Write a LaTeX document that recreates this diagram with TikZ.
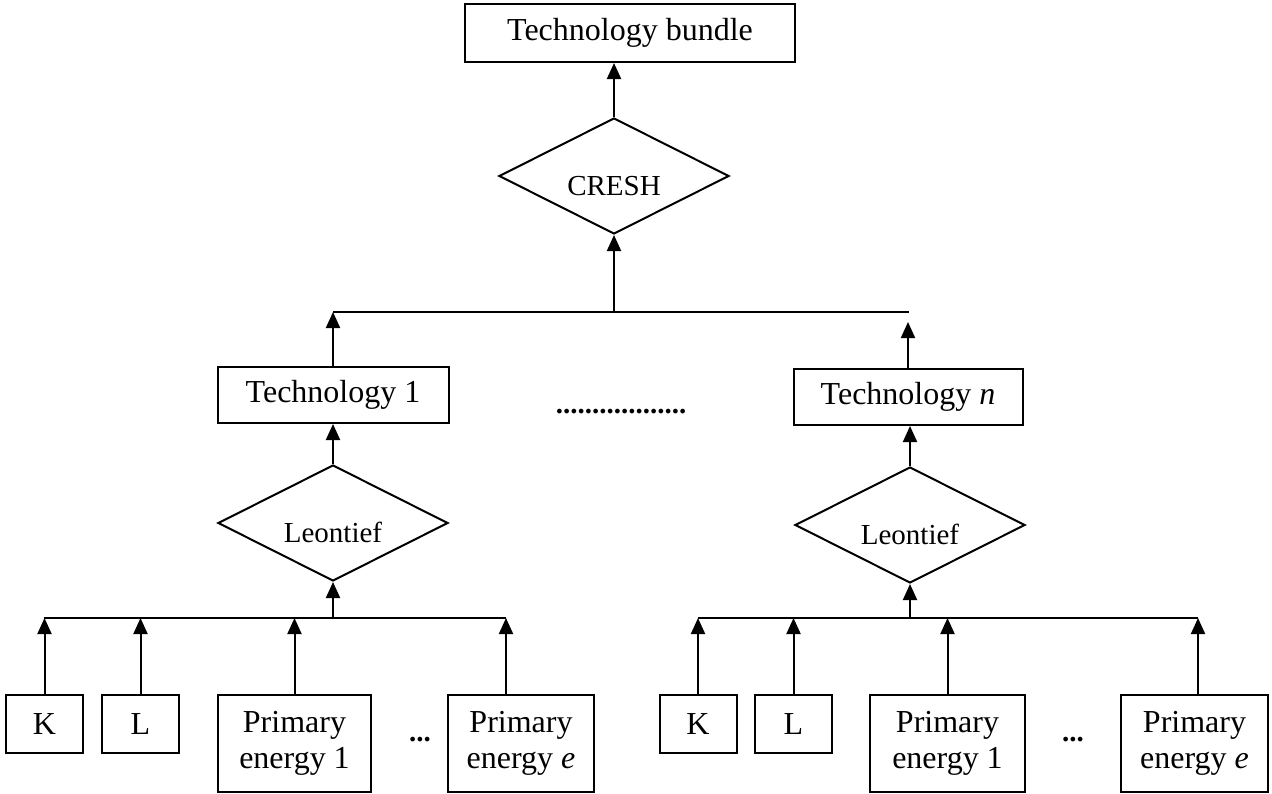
\documentclass[tikz,border=0pt]{standalone}
\usepackage{fontspec}
\setmainfont{Liberation Serif}
\usetikzlibrary{positioning,shapes.geometric,arrows.meta}

\begin{document}
\begin{tikzpicture}[x=0.5pt, y=-0.5pt, line width=1pt, >={Triangle[length=8pt,width=7pt]},
    box/.style = {draw, inner sep=0pt, align=center, font=\fontsize{16}{18}\selectfont},
    small/.style = {box, minimum width=38.5pt, minimum height=29pt},
    wide/.style = {box, minimum height=48.5pt},
    rhomb/.style = {draw, diamond, aspect=2, inner sep=0pt, minimum width=115pt, minimum height=58pt,
        text height=19pt, text depth=0pt, font=\fontsize{14.5}{17}\selectfont},
    dots/.style = {inner sep=0pt, font=\fontsize{14.5}{17}\selectfont\bfseries}]
\useasboundingbox (0,0) rectangle (1272,793);

% top
\node[box, minimum width=165pt, minimum height=29pt] (bundle) at (630,33) {Technology bundle};
\node[rhomb] (cresh) at (614,176) {CRESH};
\draw[->] (cresh.north) -- (cresh.north |- bundle.south);
\coordinate (bar) at (614,312);
\coordinate (barL) at (333,312);
\coordinate (barR) at (909,312);
\draw (barL) -- (barR);
\draw[->] (bar) -- (cresh.south);

% technologies
\node[box, minimum width=115.5pt, minimum height=28pt] (tech1) at (333,395) {Technology 1};
\node[box, minimum width=114.5pt, minimum height=28pt] (techn) at (908,397) {Technology \textit{n}};
\node[dots] (mid) at (621,412) {..................};
\coordinate (tipn) at ([yshift=23pt]techn.north);
\draw[->] (tech1.north) -- (barL);
\draw[->] (techn.north) -- (tipn);

% left Leontief nest
\node[rhomb] (leo1) at (333,523) {Leontief};
\draw[->] (leo1.north) -- (tech1.south);
\coordinate (bot1) at (333,618);
\coordinate (bot1L) at (44,618);
\coordinate (bot1R) at (506,618);
\draw (bot1L) -- (bot1R);
\draw[->] (bot1) -- (leo1.south);
\node[small] (k1) at (44.5,724) {K};
\node[small] (l1) at (140.5,724) {L};
\node[wide, minimum width=76.5pt] (pe1) at (294.5,743.5) {Primary\\energy 1};
\node[wide, minimum width=73pt] (pee1) at (521,743.5) {Primary\\energy \textit{e}};
\node[dots] (etc1) at (420,740) {...};
\draw[->] (k1.north) -- (k1.north |- bot1);
\draw[->] (l1.north) -- (l1.north |- bot1);
\draw[->] (pe1.north) -- (pe1.north |- bot1);
\draw[->] (bot1R |- pee1.north) -- (bot1R);

% right Leontief nest
\node[rhomb] (leon) at (910,525) {Leontief};
\draw[->] (leon.north) -- (leon.north |- techn.south);
\coordinate (botn) at (910,618);
\coordinate (botnL) at (698,618);
\coordinate (botnR) at (1198,618);
\draw (botnL) -- (botnR);
\draw[->] (botn) -- (leon.south);
\node[small] (k2) at (698,724) {K};
\node[small] (l2) at (793.5,724) {L};
\node[wide, minimum width=77.5pt] (pe2) at (947.5,743.5) {Primary\\energy 1};
\node[wide, minimum width=73.5pt] (pee2) at (1194.5,743.5) {Primary\\energy \textit{e}};
\node[dots] (etc2) at (1073,740) {...};
\draw[->] (k2.north) -- (k2.north |- botn);
\draw[->] (l2.north) -- (l2.north |- botn);
\draw[->] (pe2.north) -- (pe2.north |- botn);
\draw[->] (botnR |- pee2.north) -- (botnR);
\end{tikzpicture}
\end{document}
